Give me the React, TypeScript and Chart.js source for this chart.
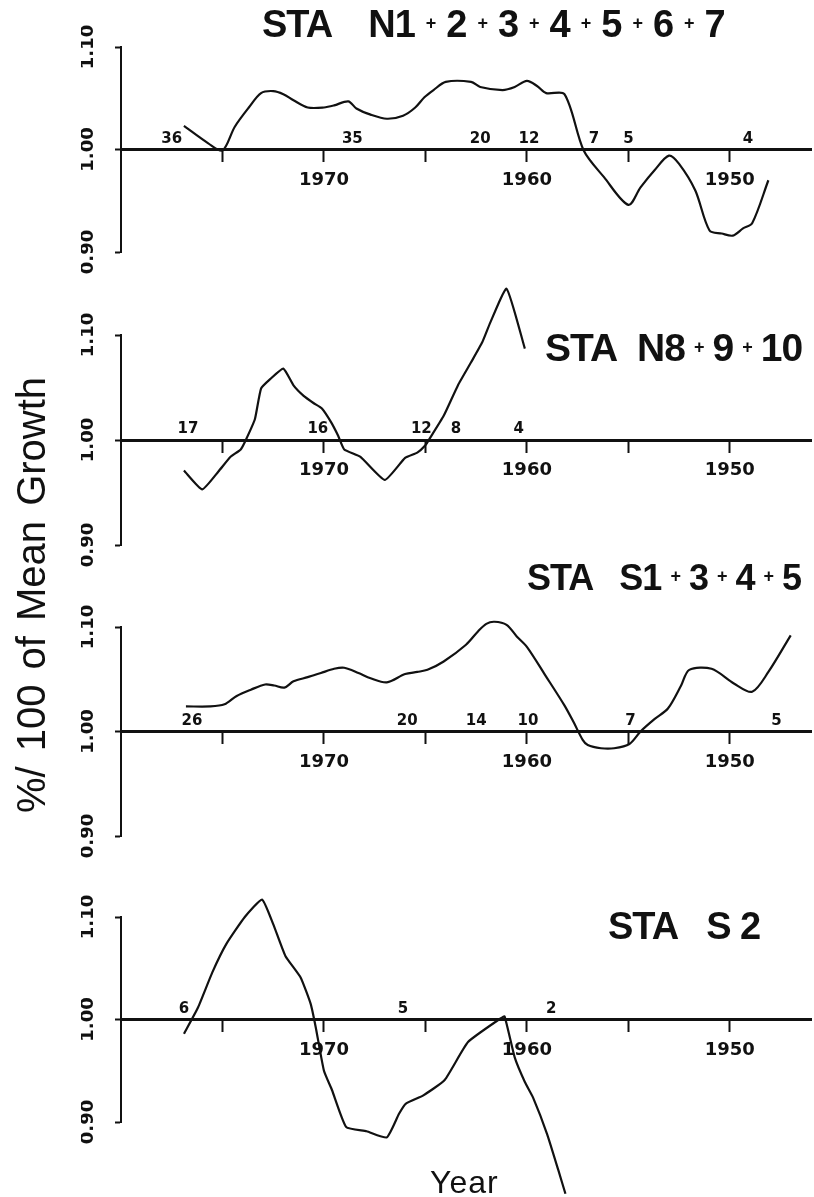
import React, { useEffect, useRef } from "react";
import { Chart, registerables } from "chart.js";

Chart.register(...registerables);

// ---------- axes ----------
const xTickYears = [1975, 1970, 1965, 1960, 1955, 1950];
const xLabelYears = [1970, 1960, 1950];
const yTickValues = [0.9, 1.0, 1.1];
const xMinYear = 1946;
const xMaxYear = 1980;

// ---------- panel 1 : STA N1+2+3+4+5+6+7 ----------
const n1to7Years = [
  1976.9, 1975.7, 1975.0, 1974.4, 1973.7, 1973.1, 1972.5, 1972.0, 1971.5, 1970.8,
  1970.0, 1969.5, 1968.8, 1968.4, 1967.7, 1966.9, 1966.1, 1965.5, 1965.05, 1964.6,
  1964.0, 1962.75, 1962.3, 1961.2, 1960.6, 1960.0, 1959.5, 1959.05, 1958.15, 1957.2,
  1956.2, 1955.0, 1954.4, 1953.7, 1953.0, 1952.5, 1951.7, 1951.0, 1950.4, 1949.85,
  1949.35, 1948.9, 1948.1,
];
const n1to7Values = [
  1.023, 1.006, 0.999, 1.022, 1.041, 1.055, 1.057, 1.054, 1.048, 1.041,
  1.041, 1.043, 1.047, 1.04, 1.034, 1.03, 1.033, 1.041, 1.051, 1.058,
  1.066, 1.066, 1.061, 1.058, 1.061, 1.067, 1.062, 1.055, 1.054, 0.999,
  0.973, 0.946, 0.963, 0.98, 0.994, 0.986, 0.96, 0.921, 0.918, 0.916,
  0.923, 0.928, 0.97,
];
const n1to7CountYears = [1977.5, 1968.6, 1962.3, 1959.9, 1956.7, 1955.0, 1949.1];
const n1to7Counts = ["36", "35", "20", "12", "7", "5", "4"];

// ---------- panel 2 : STA N8+9+10 ----------
const n8to10Years = [
  1976.9, 1976.0, 1975.2, 1974.6, 1974.1, 1973.85, 1973.4, 1973.1, 1972.65, 1972.0,
  1971.5, 1971.0, 1970.5, 1970.1, 1969.65, 1969.3, 1969.0, 1968.2, 1967.0, 1966.0,
  1965.4, 1965.0, 1964.8, 1964.1, 1963.4, 1962.75, 1962.2, 1961.8, 1961.0, 1960.1,
];
const n8to10Values = [
  0.971, 0.953, 0.97, 0.984, 0.991, 1.0, 1.02, 1.049, 1.058, 1.068,
  1.052, 1.042, 1.035, 1.03, 1.017, 1.004, 0.991, 0.984, 0.962, 0.983,
  0.988, 0.995, 1.001, 1.023, 1.052, 1.074, 1.093, 1.112, 1.144, 1.087,
];
const n8to10CountYears = [1976.7, 1970.3, 1965.2, 1963.5, 1960.4];
const n8to10Counts = ["17", "16", "12", "8", "4"];

// ---------- panel 3 : STA S1+3+4+5 ----------
const s1345Years = [
  1976.8, 1975.6, 1974.9, 1974.3, 1973.6, 1972.9, 1972.45, 1971.95, 1971.5, 1970.8,
  1970.15, 1969.5, 1969.0, 1968.3, 1967.7, 1966.9, 1966.0, 1965.4, 1964.9, 1964.1,
  1963.0, 1962.4, 1962.0, 1961.6, 1961.0, 1960.5, 1960.0, 1959.1, 1958.15, 1957.7,
  1957.25, 1957.0, 1956.35, 1955.7, 1954.95, 1954.4, 1953.7, 1953.05, 1952.4, 1952.0,
  1950.9, 1949.8, 1948.9, 1948.1, 1947.0,
];
const s1345Values = [
  1.024, 1.024, 1.026, 1.034, 1.04, 1.045, 1.044, 1.042, 1.048, 1.052,
  1.056, 1.06, 1.061, 1.056, 1.051, 1.047, 1.055, 1.057, 1.059, 1.067,
  1.083, 1.096, 1.103, 1.105, 1.102, 1.091, 1.081, 1.054, 1.025, 1.009,
  0.992, 0.987, 0.984, 0.984, 0.988, 1.0, 1.012, 1.022, 1.044, 1.059,
  1.06, 1.046, 1.038, 1.057, 1.092,
];
const s1345CountYears = [1976.5, 1965.9, 1962.5, 1959.95, 1954.9, 1947.7];
const s1345Counts = ["26", "20", "14", "10", "7", "5"];

// ---------- panel 4 : STA S2 ----------
const s2Years = [
  1976.9, 1976.2, 1975.5, 1974.8, 1973.9, 1973.05, 1972.5, 1971.9, 1971.15, 1970.65,
  1970.4, 1970.0, 1969.6, 1968.9, 1967.9, 1966.9, 1966.3, 1965.96, 1965.1, 1964.05,
  1962.9, 1961.3, 1961.1, 1960.6, 1960.1, 1959.7, 1959.0, 1958.45, 1958.1,
];
const s2Values = [
  0.986, 1.012, 1.046, 1.074, 1.1, 1.117, 1.093, 1.062, 1.041, 1.015,
  0.992, 0.95, 0.931, 0.895, 0.891, 0.885, 0.908, 0.918, 0.926, 0.941,
  0.978, 1.001, 1.003, 0.963, 0.939, 0.924, 0.888, 0.853, 0.83,
];
const s2CountYears = [1976.9, 1966.1, 1958.8];
const s2Counts = ["6", "5", "2"];

// ---------- titles ----------
const titleLead = "STA";
const panelTitles = ["N1+2+3+4+5+6+7", "N8+9+10", "S1+3+4+5", "S 2"];

type PanelSpec = {
  years: number[];
  values: number[];
  countYears: number[];
  counts: string[];
  areaTop: number; // pixel of 1.10
  areaBottom: number; // pixel of 0.90
  tension: number;
};

const PAD_TOP = 50;
const PAD_BOTTOM = 80;
const AREA_LEFT = 121;
const AREA_RIGHT = 811;
const Y_AXIS_W = 40;
const PAGE_W = 814;

const panels: PanelSpec[] = [
  { years: n1to7Years, values: n1to7Values, countYears: n1to7CountYears, counts: n1to7Counts, areaTop: 47, areaBottom: 252, tension: 0.3 },
  { years: n8to10Years, values: n8to10Values, countYears: n8to10CountYears, counts: n8to10Counts, areaTop: 335, areaBottom: 545, tension: 0.15 },
  { years: s1345Years, values: s1345Values, countYears: s1345CountYears, counts: s1345Counts, areaTop: 627, areaBottom: 836, tension: 0.3 },
  { years: s2Years, values: s2Values, countYears: s2CountYears, counts: s2Counts, areaTop: 917, areaBottom: 1122, tension: 0.15 },
];

const INK = "#111";

const countLabelsPlugin = {
  id: "countLabels",
  afterDatasetsDraw(chart: any, _args: any, opts: any) {
    const { ctx, scales } = chart;
    const yLine = scales.y.getPixelForValue(1.0);
    ctx.save();
    ctx.fillStyle = INK;
    ctx.font = 'bold 15px "DejaVu Sans"';
    ctx.textAlign = "center";
    ctx.textBaseline = "alphabetic";
    (opts.years as number[]).forEach((yr, i) => {
      ctx.fillText(opts.labels[i], scales.x.getPixelForValue(yr), yLine - 7);
    });
    ctx.restore();
  },
};

function Panel({ spec }: { spec: PanelSpec }) {
  const ref = useRef<HTMLCanvasElement>(null);
  const top = spec.areaTop - PAD_TOP;
  const height = spec.areaBottom - spec.areaTop + PAD_TOP + PAD_BOTTOM;

  useEffect(() => {
    if (!ref.current) return;
    const chart = new Chart(ref.current, {
      type: "line",
      data: {
        datasets: [
          {
            data: spec.years.map((x, i) => ({ x, y: spec.values[i] })),
            borderColor: INK,
            borderWidth: 2.2,
            pointRadius: 0,
            tension: spec.tension,
            fill: false,
            clip: false as any,
          },
        ],
      },
      options: {
        animation: false,
        responsive: false,
        maintainAspectRatio: false,
        events: [],
        layout: {
          padding: {
            left: AREA_LEFT - Y_AXIS_W,
            right: PAGE_W - AREA_RIGHT,
            top: PAD_TOP,
            bottom: PAD_BOTTOM,
          },
        },
        plugins: {
          legend: { display: false },
          tooltip: { enabled: false },
          title: { display: false },
          countLabels: { years: spec.countYears, labels: spec.counts },
        } as any,
        scales: {
          x: {
            type: "linear",
            min: xMinYear,
            max: xMaxYear,
            reverse: true,
            position: { y: 1.0 } as any,
            afterBuildTicks: (s: any) => {
              s.ticks = xTickYears.map((v) => ({ value: v }));
            },
            afterFit: (s: any) => {
              s.height = 0;
            },
            grid: {
              drawOnChartArea: false,
              drawTicks: true,
              tickLength: 11,
              tickWidth: 2,
              tickColor: INK,
            },
            border: { display: true, color: INK, width: 3 },
            ticks: {
              autoSkip: false,
              maxRotation: 0,
              minRotation: 0,
              padding: 9,
              color: INK,
              font: { family: "DejaVu Sans", size: 18, weight: "bold" },
              callback: (v: any) => (xLabelYears.includes(Number(v)) ? String(v) : ""),
            },
          },
          y: {
            type: "linear",
            min: 0.9,
            max: 1.1,
            afterBuildTicks: (s: any) => {
              s.ticks = yTickValues.map((v) => ({ value: v }));
            },
            afterFit: (s: any) => {
              s.width = Y_AXIS_W;
            },
            grid: {
              drawOnChartArea: false,
              tickLength: 6,
              tickWidth: 2,
              tickColor: INK,
            },
            border: { display: true, color: INK, width: 2 },
            ticks: {
              minRotation: 90,
              maxRotation: 90,
              crossAlign: "center",
              padding: 4,
              color: INK,
              font: { family: "DejaVu Sans", size: 18, weight: "bold" },
              callback: (v: any) => Number(v).toFixed(2),
            },
          },
        },
      } as any,
      plugins: [countLabelsPlugin as any],
    });
    return () => chart.destroy();
  }, [spec]);

  return (
    <canvas
      ref={ref}
      width={PAGE_W}
      height={height}
      style={{ position: "absolute", left: 0, top, width: PAGE_W, height }}
    />
  );
}

type TitleLayout = { left: number; top: number; size: number; gap: number; plusMargin: number };
const titleLayouts: TitleLayout[] = [
  { left: 262, top: 5, size: 38, gap: 26, plusMargin: 11 },
  { left: 545, top: 328, size: 39, gap: 10, plusMargin: 9 },
  { left: 527, top: 560, size: 36, gap: 16, plusMargin: 9 },
  { left: 608, top: 907, size: 38, gap: 18, plusMargin: 0 },
];

function Title({ text, layout }: { text: string; layout: TitleLayout }) {
  const parts = text.split("+");
  return (
    <div
      style={{
        position: "absolute",
        left: layout.left,
        top: layout.top,
        fontFamily: "'Liberation Sans', Arial, sans-serif",
        fontWeight: "bold",
        fontSize: layout.size,
        lineHeight: 1,
        whiteSpace: "pre",
        color: INK,
        letterSpacing: -1,
      }}
    >
      <span>{titleLead}</span>
      <span style={{ display: "inline-block", width: layout.gap + 10 }}> </span>
      {parts.map((p, i) => (
        <React.Fragment key={i}>
          {i > 0 && (
            <span
              style={{
                fontSize: 18,
                margin: `0 ${layout.plusMargin}px`,
                position: "relative",
                top: -8,
              }}
            >
              +
            </span>
          )}
          <span>{p}</span>
        </React.Fragment>
      ))}
    </div>
  );
}

export default function App() {
  return (
    <div
      style={{
        position: "absolute",
        left: 0,
        top: 0,
        width: PAGE_W,
        height: 1197,
        overflow: "hidden",
        background: "#fff",
      }}
    >
      {panels.map((p, i) => (
        <Panel key={i} spec={p} />
      ))}
      {panelTitles.map((t, i) => (
        <Title key={i} text={t} layout={titleLayouts[i]} />
      ))}
      <div
        style={{
          position: "absolute",
          left: 31 - 240,
          top: 595 - 20,
          width: 480,
          height: 40,
          lineHeight: 1,
          fontSize: 40,
          fontFamily: "'Liberation Sans', Arial, sans-serif",
          textAlign: "center",
          whiteSpace: "pre",
          wordSpacing: 4,
          color: INK,
          transform: "rotate(-90deg)",
        }}
      >
        %/ 100 of Mean Growth
      </div>
      <div
        style={{
          position: "absolute",
          left: 430,
          top: 1166,
          fontSize: 32,
          lineHeight: 1,
          fontFamily: "'Liberation Sans', Arial, sans-serif",
          letterSpacing: 1,
          color: INK,
        }}
      >
        Year
      </div>
    </div>
  );
}
